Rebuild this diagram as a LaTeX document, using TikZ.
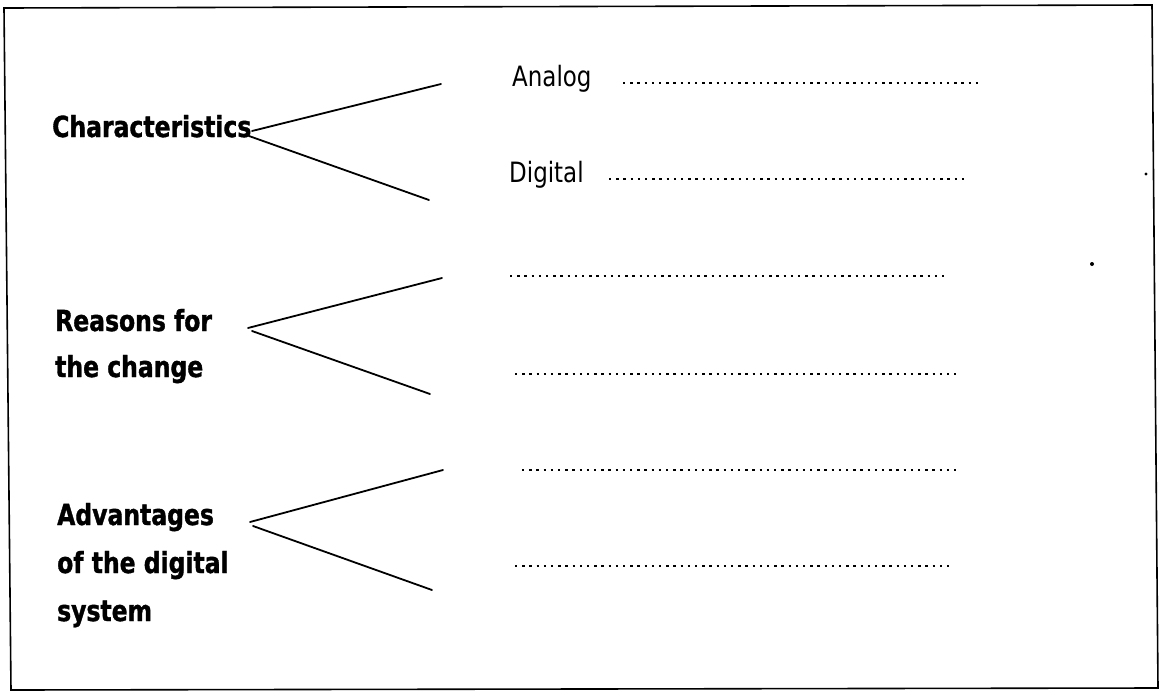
\documentclass[tikz,border=0pt]{standalone}
\usepackage{fontspec}
\setmainfont{DejaVu Sans}
\newfontfamily\tfont[FakeStretch=0.81, BoldFeatures={FakeBold=1.2}]{DejaVu Sans}
\newfontfamily\ifont[FakeStretch=0.82]{DejaVu Sans}
\begin{document}
\begin{tikzpicture}[x=1pt,y=-1pt,
  head/.style={anchor=base west, inner sep=0pt, font=\tfont\bfseries\fontsize{29}{34}\selectfont},
  item/.style={anchor=base west, inner sep=0pt, font=\ifont\fontsize{28}{32}\selectfont},
  fork/.style={line width=1.8pt, line cap=round},
  dots/.style={line width=2.4pt, dash pattern=on 2.4pt off 4.8pt},
  frame/.style={line width=1.6pt}]
\useasboundingbox (0,0) rectangle (1160,691);
\fill[white] (0,0) rectangle (1160,691);
% frame
\coordinate (fTL) at (4,8);
\coordinate (fTR) at (1152,5);
\coordinate (fBR) at (1158,688);
\coordinate (fBL) at (11,690);
\draw[frame] (fTL) -- (fTR) -- (fBR) -- (fBL) -- cycle;
% headings
\node[head] (ch) at (52,137) {Characteristics};
\node[head] (re1) at (55,331) {Reasons for};
\node[head] (re2) at (55,377) {the change};
\node[head] (ad1) at (57,525) {Advantages};
\node[head] (ad2) at (57,573) {of the digital};
\node[head] (ad3) at (57,621) {system};
% items
\node[item] (an) at (512,86) {Analog};
\node[item] (di) at (509,182) {Digital};
% fork coordinates
\coordinate (chS1) at (252,131);
\coordinate (chS2) at (249,136);
\coordinate (chE1) at (441,84);
\coordinate (chE2) at (429,200);
\coordinate (reS1) at (248,328);
\coordinate (reS2) at (252,331);
\coordinate (reE1) at (442,278);
\coordinate (reE2) at (430,394);
\coordinate (adS1) at (250,522);
\coordinate (adS2) at (253,526);
\coordinate (adE1) at (443,470);
\coordinate (adE2) at (432,590);
\draw[fork] (chS1) -- (chE1);
\draw[fork] (chS2) -- (chE2);
\draw[fork] (reS1) -- (reE1);
\draw[fork] (reS2) -- (reE2);
\draw[fork] (adS1) -- (adE1);
\draw[fork] (adS2) -- (adE2);
% dotted answer lines
\coordinate (d1a) at (623,83);  \coordinate (d1b) at (981,83);
\coordinate (d2a) at (609,179); \coordinate (d2b) at (966,179);
\coordinate (d3a) at (510,276); \coordinate (d3b) at (949,276);
\coordinate (d4a) at (515,374); \coordinate (d4b) at (956,374);
\coordinate (d5a) at (522,470); \coordinate (d5b) at (959,470);
\coordinate (d6a) at (515,566); \coordinate (d6b) at (953,566);
\draw[dots] (d1a) -- (d1b);
\draw[dots] (d2a) -- (d2b);
\draw[dots] (d3a) -- (d3b);
\draw[dots] (d4a) -- (d4b);
\draw[dots] (d5a) -- (d5b);
\draw[dots] (d6a) -- (d6b);
% stray marks
\fill (1092,264) circle (2);
\fill (1146,174) circle (1.6);
\end{tikzpicture}
\end{document}
